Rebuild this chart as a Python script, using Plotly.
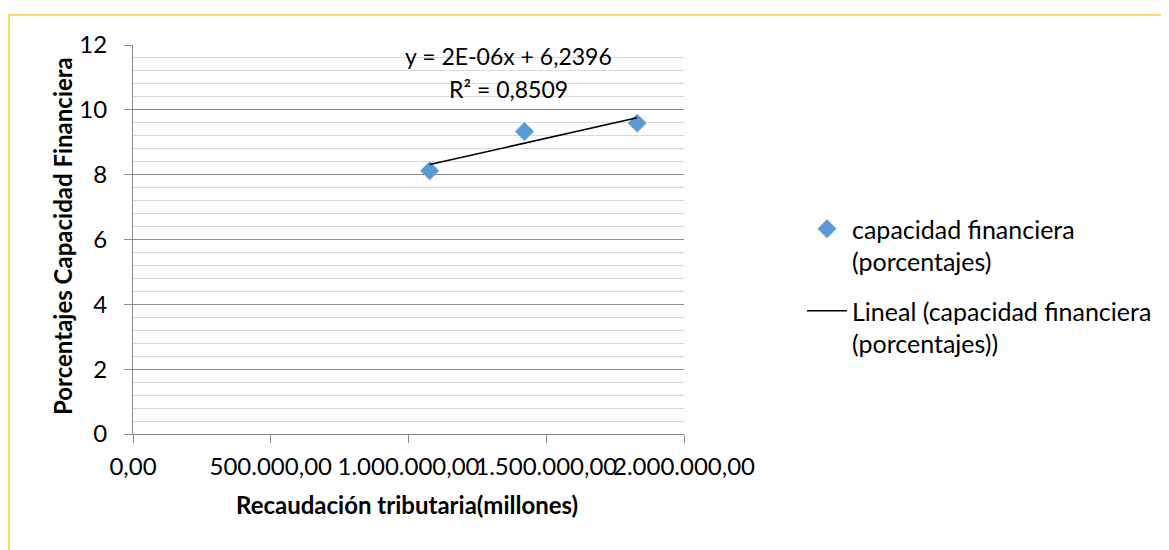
import numpy as np
import plotly.graph_objects as go

# ---- data ----
recaudacion = [1077000, 1421000, 1830000]          # Recaudación tributaria (millones)
capacidad = [8.12, 9.33, 9.59]                      # capacidad financiera (porcentajes)
x_tickvals = [0, 500000, 1000000, 1500000, 2000000]
x_ticktext = ["0,00", "500.000,00", "1.000.000,00", "1.500.000,00", "2.000.000,00"]
y_tickvals = [0, 2, 4, 6, 8, 10, 12]
series_name = "capacidad financiera<br>(porcentajes)"
trend_name = "Lineal (capacidad financiera<br>(porcentajes))"
eq_line1 = "y = 2E-06x + 6,2396"
eq_line2 = "R² = 0,8509"

FONT = "Lato"
OFF = 8  # page body margin
W, H = 1169 - OFF, 550 - OFF
# plot area in screen coords: x 133..684, y 45..434
L = 133 - OFF
T = 45 - OFF
R = W - (684 - OFF)
B = H - (434 - OFF)
PW, PH = W - L - R, H - T - B


def px_x(sx):
    return (sx - OFF - L) / PW


def px_y(sy):
    return (H - B - (sy - OFF)) / PH


slope, intercept = np.polyfit(recaudacion, capacidad, 1)
trend_x = [min(recaudacion), max(recaudacion)]
trend_y = [slope * v + intercept for v in trend_x]

fig = go.Figure()
fig.add_trace(go.Scatter(
    x=recaudacion, y=capacidad, mode="markers", name=series_name,
    marker=dict(symbol="diamond", size=14.6, color="#5B9BD5", line=dict(width=0)),
    legendgroup="a",
))
fig.add_trace(go.Scatter(
    x=trend_x, y=trend_y, mode="lines", name=trend_name,
    line=dict(color="#000000", width=1.5), legendgroup="b",
))

grid_major = "#8C8C8C"
grid_minor = "#D9D9D9"

fig.update_xaxes(
    range=[0, 2000000], tickvals=x_tickvals, ticktext=x_ticktext, tickangle=0,
    showgrid=False, zeroline=False, showline=True, linecolor=grid_major, linewidth=1,
    ticks="outside", ticklen=8, tickcolor=grid_major, tickwidth=1,
    tickfont=dict(family=FONT, size=24, color="#000000"), ticklabelstandoff=3,
)
fig.update_yaxes(
    range=[0, 12], tickvals=y_tickvals, showgrid=True, gridcolor=grid_major, gridwidth=1,
    zeroline=False, showline=True, linecolor=grid_major, linewidth=1,
    ticks="outside", ticklen=8, tickcolor=grid_major, tickwidth=1,
    tickfont=dict(family=FONT, size=24, color="#000000"), ticklabelstandoff=12,
    minor=dict(dtick=0.4, tick0=0, showgrid=True, gridcolor=grid_minor, gridwidth=1, ticks=""),
)

annotations = [
    dict(text=eq_line1, x=px_x(508), y=px_y(56), xref="paper", yref="paper",
         showarrow=False, font=dict(family=FONT, size=23, color="#000000"),
         xanchor="center", yanchor="middle"),
    dict(text=eq_line2, x=px_x(508), y=px_y(89), xref="paper", yref="paper",
         showarrow=False, font=dict(family=FONT, size=23, color="#000000"),
         xanchor="center", yanchor="middle"),
    dict(text="<b>Recaudación tributaria(millones)</b>", x=px_x(407), y=px_y(505),
         xref="paper", yref="paper", showarrow=False,
         font=dict(family=FONT, size=24, color="#000000"), xanchor="center", yanchor="middle"),
    dict(text="<b>Porcentajes Capacidad Financiera</b>", x=px_x(62), y=px_y(236),
         xref="paper", yref="paper", showarrow=False, textangle=-90,
         font=dict(family=FONT, size=24, color="#000000"), xanchor="center", yanchor="middle"),
]

shapes = [
    dict(type="rect", xref="paper", yref="paper",
         x0=px_x(9), y0=px_y(575), x1=px_x(1200), y1=px_y(15),
         line=dict(color="#FFD966", width=2), fillcolor="rgba(0,0,0,0)", layer="below"),
]

fig.update_layout(
    width=W, height=H, margin=dict(l=L, r=R, t=T, b=B, autoexpand=False),
    paper_bgcolor="#FFFFFF", plot_bgcolor="#FFFFFF",
    font=dict(family=FONT, size=20, color="#000000"),
    showlegend=True,
    legend=dict(x=px_x(802), y=px_y(206), xanchor="left", yanchor="top",
                font=dict(family=FONT, size=25, color="#000000"), valign="top",
                tracegroupgap=14, itemwidth=40, bgcolor="rgba(0,0,0,0)"),
    annotations=annotations, shapes=shapes,
)

fig.write_html("out.html")
